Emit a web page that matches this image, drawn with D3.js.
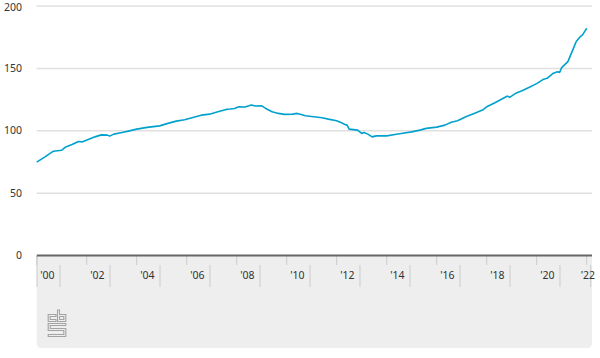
<!DOCTYPE html>
<html><head><meta charset="utf-8">
<script src="https://cdn.jsdelivr.net/npm/d3@7"></script>
<style>
html,body{margin:0;padding:0;background:#fff;}
svg{display:block;font-family:"Noto Sans","Open Sans",sans-serif;}
</style></head>
<body><svg id="c" width="600" height="358"></svg>
<script>
const months = ["2000-01","2000-05","2000-09","2001-01","2001-03","2001-06","2001-09","2001-11","2002-02","2002-05","2002-08","2002-11","2002-12","2003-02","2003-06","2003-09","2004-01","2004-06","2004-12","2005-04","2005-08","2005-12","2006-04","2006-08","2006-12","2007-04","2007-08","2007-10","2007-12","2008-02","2008-05","2008-08","2008-10","2009-01","2009-03","2009-06","2009-09","2009-12","2010-04","2010-06","2010-08","2010-10","2011-02","2011-06","2011-09","2012-01","2012-03","2012-05","2012-06","2012-07","2012-11","2013-01","2013-02","2013-04","2013-06","2013-08","2014-01","2014-05","2014-08","2015-01","2015-05","2015-08","2016-01","2016-05","2016-08","2016-11","2017-03","2017-07","2017-11","2018-01","2018-05","2018-09","2018-11","2018-12","2019-03","2019-06","2019-09","2020-01","2020-04","2020-06","2020-09","2020-11","2020-12","2021-01","2021-04","2021-06","2021-08","2021-10","2021-11","2021-12","2022-01"];
const index = [74.8,79,83.6,84.4,87,89,91.4,91.1,93.2,95.1,96.7,96.5,95.7,97.3,98.6,99.7,101.3,102.7,103.9,105.9,107.7,108.8,110.7,112.5,113.3,115.2,117.1,117.4,117.9,119.2,119,120.6,119.8,120,117.9,115.2,113.9,113.1,113.3,113.9,113.1,112,111.2,110.4,109.3,108,106.7,105,104.5,101.3,100.5,97.8,98.6,97.3,95.1,95.9,95.9,97,97.8,99.1,100.5,101.9,102.9,104.5,106.8,108,111.2,113.9,116.6,119.2,122.4,126,127.8,126.8,130,132.1,134.5,137.8,141,142,146.1,147.3,146.8,150.6,155.4,163.4,171.5,175.5,176.8,179.5,182.2];
const yTicks = [0,50,100,150,200];
const xTickYears = [2000,2002,2004,2006,2008,2010,2012,2014,2016,2018,2020,2022];
const xTickLabels = ["'00","'02","'04","'06","'08","'10","'12","'14","'16","'18","'20","'22"];

const parse = d3.timeParse("%Y-%m");
const data = months.map((m,i)=>({d:parse(m), v:index[i]}));

const svg = d3.select("#c");
const left = 36.7, right = 592, x22 = 586.7;
const x = d3.scaleTime().domain([new Date(2000,0,1), new Date(2022,0,1)]).range([left, x22]);
const y = d3.scaleLinear().domain([0,200]).range([255.5, 6]);

// grey axis panel
const panelTop = 256, panelBot = 348, r = 5;
svg.append("path")
  .attr("d", `M${left},${panelTop} H${right} V${panelBot-r} Q${right},${panelBot} ${right-r},${panelBot} H${left+r} Q${left},${panelBot} ${left},${panelBot-r} Z`)
  .attr("fill", "#eeeeee");

// gridlines
svg.append("g").selectAll("line").data(yTicks.filter(t=>t>0)).join("line")
  .attr("x1", left).attr("x2", right)
  .attr("y1", d=>y(d)).attr("y2", d=>y(d))
  .attr("stroke", "#e0e0e0").attr("stroke-width", 1.5);

// y labels
svg.append("g").selectAll("text").data(yTicks).join("text")
  .attr("x", 22).attr("y", d=>Math.max(y(d), 7.5)).attr("dy","0.35em")
  .attr("text-anchor","end").attr("font-size", 10.5).attr("fill","#333")
  .text(d=>d);

// x ticks
const xg = svg.append("g");
xg.selectAll("line.t").data(xTickYears).join("line").attr("class","t")
  .attr("x1", d=>x(new Date(d,0,1))).attr("x2", d=>x(new Date(d,0,1)))
  .attr("y1", panelTop).attr("y2", 265).attr("stroke","#cccccc").attr("stroke-width",1);
xg.selectAll("line.s").data(xTickYears).join("line").attr("class","s")
  .attr("x1", d=>Math.min(x(new Date(d,0,1))+23.3, right-1.3))
  .attr("x2", d=>Math.min(x(new Date(d,0,1))+23.3, right-1.3))
  .attr("y1", 265).attr("y2", 287).attr("stroke","#cccccc").attr("stroke-width",1);
xg.append("line").attr("x1", left+0.3).attr("x2", left+0.3).attr("y1", panelTop).attr("y2", 287)
  .attr("stroke","#cccccc").attr("stroke-width",1);
xg.selectAll("text").data(xTickYears).join("text")
  .attr("x", (d,i)=> i===xTickYears.length-1 ? 595 : x(new Date(d,0,1))+3.5)
  .attr("text-anchor", (d,i)=> i===xTickYears.length-1 ? "end" : "start")
  .attr("y", 279)
  .attr("font-size", 10.5).attr("fill","#333")
  .text((d,i)=>xTickLabels[i]);

// zero axis line
svg.append("line").attr("x1", left).attr("x2", right).attr("y1", y(0)).attr("y2", y(0))
  .attr("stroke","#666").attr("stroke-width",2);

// line
const line = d3.line().x(d=>x(d.d)).y(d=>y(d.v)).curve(d3.curveLinear);
svg.append("path").datum(data).attr("d", line)
  .attr("fill","none").attr("stroke","#00a1cd").attr("stroke-width",1.6)
  .attr("stroke-linejoin","round");

// cbs logo (approximation)
const logo = svg.append("g").attr("fill","none").attr("stroke","#a3a3a3").attr("stroke-width",1.1);
logo.append("path").attr("d","M56,314.5 H48.2 V321.5 H56 V319.5 H50.2 V316.5 H56 Z");
logo.append("path").attr("d","M57.5,310 H59.5 V314.5 H65.8 V321.5 H57.5 Z M59.5,316.5 V319.5 H63.8 V316.5 Z");
logo.append("path").attr("d","M48.2,323.5 H65.8 V325.5 H50.2 V328.5 H65.8 V336.5 H48.2 V334.5 H63.8 V330.5 H48.2 Z");
</script></body></html>
